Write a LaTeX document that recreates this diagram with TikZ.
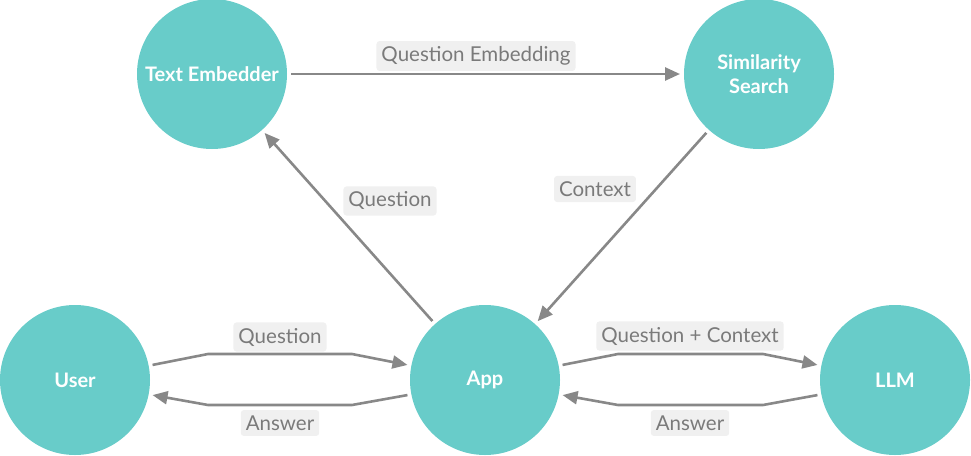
\documentclass[tikz,border=0pt]{standalone}
\usepackage{fontspec}
\setmainfont{Lato}
\usetikzlibrary{arrows.meta}
\definecolor{teal1}{HTML}{68CCC9}
\definecolor{arrowgray}{HTML}{888888}
\definecolor{labgray}{HTML}{7A7A7A}
\definecolor{labbg}{HTML}{F0F0F0}
\begin{document}
\begin{tikzpicture}[x=1pt,y=-1pt,
  circ/.style={circle,fill=teal1,minimum size=150pt,inner sep=0pt,outer sep=4pt,text=white,font=\fontsize{20}{24}\selectfont\bfseries,align=center},
  conn/.style={draw=arrowgray,line width=2.6pt,-{Triangle[length=15pt,width=13pt]}},
  lab/.style={fill=labbg,rounded corners=3pt,text=labgray,font=\fontsize{20.5}{24}\selectfont,inner xsep=5pt,inner ysep=5.5pt}]
\useasboundingbox (0,0) rectangle (971,455);
\node[circ] (te) at (212,74) {Text Embedder};
\node[circ] (ss) at (759,74) {Similarity\\Search};
\node[circ] (user) at (75,380) {User};
\node[circ] (app) at (485,380) {App};
\node[circ] (llm) at (895,380) {LLM};

\draw[conn] (te) -- (ss);
\draw[conn] (app) -- (te);
\draw[conn] (ss) -- (app);
\draw[conn] (user.11) -- (208,354) -- (352,354) -- (app.169);
\draw[conn] (app.191) -- (352,405) -- (208,405) -- (user.349);
\draw[conn] (app.11) -- (618,354) -- (763,354) -- (llm.169);
\draw[conn] (llm.191) -- (763,405) -- (618,405) -- (app.349);

\node[lab] (l1) at (476,56) {Question Embedding};
\node[lab] (l2) at (390,201) {Question};
\node[lab] (l3) at (595,189) {Context};
\node[lab] (l4) at (280,337) {Question};
\node[lab] (l5) at (280,423) {Answer};
\node[lab] (l6) at (690,336) {Question + Context};
\node[lab] (l7) at (690,423) {Answer};
\end{tikzpicture}
\end{document}
